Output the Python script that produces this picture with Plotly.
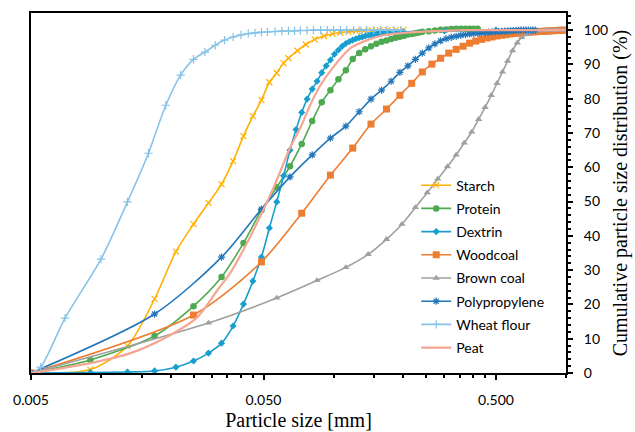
import plotly.graph_objects as go
import math

# ---------------- data ----------------
starch_x = [0.005, 0.009, 0.013, 0.017, 0.021, 0.025, 0.029, 0.033, 0.037, 0.041, 0.045, 0.049, 0.053,
            0.057, 0.061, 0.064, 0.070, 0.076, 0.083, 0.091, 0.099, 0.107, 0.116, 0.125, 0.135, 0.146,
            0.158, 0.171, 0.185, 0.200]
starch_y = [0, 1.0, 7.9, 21.6, 35.4, 43.4, 49.6, 55.1, 61.8, 69.1, 74.9, 79.6, 84.8,
            87.5, 90.4, 91.8, 94.0, 95.8, 97.3, 98.3, 98.9, 99.3, 99.5, 99.7, 99.8, 99.9,
            100, 100, 100, 100]

protein_x = [0.005, 0.009, 0.017, 0.025, 0.033, 0.041, 0.049, 0.057, 0.065, 0.073, 0.081, 0.089,
             0.097, 0.105, 0.113, 0.121, 0.129, 0.137, 0.145, 0.153, 0.161, 0.169, 0.177, 0.185,
             0.193, 0.201, 0.209, 0.217, 0.225, 0.233, 0.241, 0.257, 0.273, 0.289, 0.305, 0.321,
             0.337, 0.353, 0.369, 0.385, 0.401, 0.417]
protein_y = [0, 3.8, 10.8, 19.5, 28.0, 37.9, 47.5, 54.2, 60.3, 66.8, 73.5, 79.0,
             82.5, 85.7, 88.3, 91.6, 93.3, 94.4, 95.3, 96.0, 96.6, 97.0, 97.4, 97.8,
             98.1, 98.4, 98.7, 98.9, 99.1, 99.3, 99.5, 99.7, 99.9, 100.1, 100.2, 100.3,
             100.4, 100.4, 100.4, 100.4, 100.4, 100.4]

dextrin_x = [0.005, 0.009, 0.013, 0.017, 0.021, 0.025, 0.029, 0.033, 0.037, 0.041, 0.045, 0.049,
             0.053, 0.057, 0.061, 0.065, 0.069, 0.073, 0.077, 0.081, 0.085, 0.089, 0.093, 0.097,
             0.101, 0.105, 0.109, 0.113, 0.117, 0.121, 0.125, 0.129, 0.133, 0.137, 0.141, 0.145,
             0.149, 0.153, 0.157, 0.161, 0.165, 0.173, 0.185, 0.200, 0.300, 0.500, 1.000]
dextrin_y = [0, 0.1, 0.3, 0.6, 1.7, 3.5, 5.8, 8.7, 13.7, 20.1, 26.8, 33.8,
             42.3, 49.9, 57.5, 65.0, 71.0, 76.0, 79.9, 82.8, 85.1, 87.6, 89.6, 91.3,
             93.0, 94.2, 95.3, 96.1, 96.7, 97.1, 97.5, 97.8, 98.0, 98.3, 98.5, 98.6,
             98.8, 98.9, 99.0, 99.1, 99.2, 99.3, 99.4, 99.5, 99.8, 100, 100]

woodcoal_x = [0.005, 0.025, 0.049, 0.073, 0.097, 0.121, 0.145, 0.169, 0.193, 0.217, 0.241, 0.265,
              0.289, 0.313, 0.337, 0.361, 0.385, 0.409, 0.433, 0.457, 0.481, 0.505, 0.529, 0.553,
              0.577, 0.601, 0.625, 0.649, 0.673, 0.697, 0.721, 0.745, 0.769, 0.793, 0.817, 0.841,
              0.865, 0.889, 0.913, 0.937, 0.961, 0.985]
woodcoal_y = [0, 16.9, 32.4, 46.6, 57.7, 65.6, 72.6, 77.0, 81.0, 84.5, 87.8, 90.1,
              91.8, 93.3, 94.4, 95.3, 96.2, 96.8, 97.3, 97.7, 98.0, 98.3, 98.5, 98.7,
              98.9, 99.0, 99.1, 99.2, 99.3, 99.4, 99.5, 99.55, 99.6, 99.65, 99.7, 99.75,
              99.8, 99.85, 99.9, 99.95, 100, 100]

browncoal_x = [0.005, 0.029, 0.057, 0.085, 0.113, 0.141, 0.169, 0.197, 0.225, 0.253, 0.281, 0.309,
               0.337, 0.365, 0.393, 0.421, 0.449, 0.477, 0.505, 0.533, 0.561, 0.589, 0.617, 0.645,
               0.673, 0.701, 0.729, 0.757, 0.785, 0.813, 0.841, 0.869, 0.897, 0.925, 0.953, 0.981]
browncoal_y = [0, 14.6, 21.9, 27.0, 30.8, 34.6, 39.0, 43.4, 48.3, 52.6, 56.6, 60.2,
               63.6, 67.1, 70.3, 74.0, 77.5, 81.0, 84.5, 87.8, 91.0, 94.0, 96.3, 97.9,
               98.8, 99.3, 99.6, 99.8, 99.9, 100, 100, 100, 100, 100, 100, 100]

polyprop_x = [0.005, 0.017, 0.033, 0.049, 0.065, 0.081, 0.097, 0.113, 0.129, 0.145, 0.161, 0.177,
              0.193, 0.209, 0.225, 0.241, 0.257, 0.273, 0.289, 0.305, 0.321, 0.337, 0.353, 0.369,
              0.385, 0.401, 0.417, 0.433, 0.449, 0.465, 0.481, 0.497, 0.513, 0.529, 0.545, 0.561,
              0.577, 0.593, 0.609, 0.625, 0.641, 0.657, 0.673, 0.689, 0.705, 0.721, 0.737]
polyprop_y = [0, 17.2, 33.8, 47.8, 57.2, 63.6, 68.5, 72.0, 76.2, 79.9, 82.5, 85.1,
              87.7, 89.6, 91.5, 93.3, 94.8, 96.0, 96.9, 97.5, 97.9, 98.2, 98.5, 98.7,
              98.9, 99.0, 99.1, 99.2, 99.3, 99.4, 99.5, 99.55, 99.6, 99.65, 99.7, 99.75,
              99.8, 99.85, 99.9, 99.95, 100, 100, 100, 100, 100, 100, 100]

wheat_x = [0.005, 0.0055, 0.007, 0.010, 0.013, 0.016, 0.019, 0.022, 0.025, 0.028, 0.031, 0.034,
           0.037, 0.040, 0.043, 0.046, 0.049, 0.052, 0.056, 0.060, 0.064, 0.068, 0.072, 0.077,
           0.082, 0.088, 0.094, 0.100, 0.107, 0.114, 0.122, 0.130, 0.139, 0.149, 0.159, 0.170,
           0.182, 0.195]
wheat_y = [0, 1.7, 16.0, 33.2, 49.9, 64.1, 78.1, 86.9, 91.5, 93.6, 95.6, 97.1,
           98.0, 98.6, 99.0, 99.2, 99.4, 99.5, 99.6, 99.7, 99.8, 99.8, 99.9, 99.9,
           100, 100, 100, 100, 100, 100, 100, 100, 100, 100, 100, 100,
           100, 100]

peat_x = [0.005, 0.009, 0.0134, 0.0199, 0.026, 0.0317, 0.036, 0.0431, 0.0547, 0.0653, 0.0721,
          0.0797, 0.088, 0.100, 0.1186, 0.140, 0.164, 0.195, 0.270, 0.378, 0.600, 1.000]
peat_y = [0, 2.9, 5.8, 11.1, 16.3, 24.2, 29.2, 38.8, 53.4, 65.9, 71.6,
          78.4, 84.0, 89.3, 94.8, 97.1, 98.5, 99.1, 99.7, 100, 100, 100]

x_tickvals = [0.005, 0.05, 0.5]
x_ticktext = ["0.005", "0.050", "0.500"]
x_minor = [0.01, 0.015, 0.02, 0.025, 0.03, 0.035, 0.04, 0.045,
           0.1, 0.15, 0.2, 0.25, 0.3, 0.35, 0.4, 0.45, 1.0]

series = [
    ("Starch", starch_x, starch_y, "#FFB000", dict(symbol="x-thin-open", size=6, line=dict(width=1.2, color="#FFB000"))),
    ("Protein", protein_x, protein_y, "#4EA94F", dict(symbol="circle", size=6.5)),
    ("Dextrin", dextrin_x, dextrin_y, "#189ECE", dict(symbol="diamond", size=5.5)),
    ("Woodcoal", woodcoal_x, woodcoal_y, "#ED7D31", dict(symbol="square", size=7)),
    ("Brown coal", browncoal_x, browncoal_y, "#A0A0A0", dict(symbol="triangle-up", size=6.5)),
    ("Polypropylene", polyprop_x, polyprop_y, "#2276BA", dict(symbol="asterisk-open", size=6, line=dict(width=1.2, color="#5AA0D8"))),
    ("Wheat flour", wheat_x, wheat_y, "#87C3E8", dict(symbol="cross-thin-open", size=6, line=dict(width=1.2, color="#87C3E8"))),
    ("Peat", peat_x, peat_y, "#F5A592", None),
]

fig = go.Figure()
for i, (name, xs, ys, col, mk) in enumerate(series):
    kw = dict(x=xs, y=ys, name=name, legendgroup=f"g{i}",
              line=dict(color=col, width=1.6, shape="spline", smoothing=0.8))
    if mk is None:
        kw["mode"] = "lines"
        kw["line"]["width"] = 2.2
    else:
        m = dict(color=col)
        m.update(mk)
        kw["mode"] = "lines+markers"
        kw["marker"] = m
    fig.add_trace(go.Scatter(**kw))

tick_font = dict(family="Lato", size=14, color="black")
title_font = dict(family="Liberation Serif", size=20, color="black")

fig.update_layout(
    width=635, height=432, autosize=False,
    margin=dict(l=31, r=69, t=13, b=59),
    paper_bgcolor="white", plot_bgcolor="white",
    showlegend=True,
    legend=dict(x=0.72, y=0.565, xanchor="left", yanchor="top",
                bgcolor="rgba(0,0,0,0)", font=dict(family="Lato", size=14, color="black"),
                tracegroupgap=2, itemwidth=30),
    xaxis=dict(type="log", range=[math.log10(0.005), math.log10(1.0)], automargin=False,
               tickvals=x_tickvals, ticktext=x_ticktext, tickfont=tick_font,
               ticks="outside", ticklen=5, tickwidth=2, tickcolor="black",
               ticklabelstandoff=8,
               minor=dict(tickvals=x_minor, ticks="outside", ticklen=3, tickwidth=2, tickcolor="black"),
               showline=True, linecolor="black", linewidth=2, mirror=True,
               showgrid=False, zeroline=False,
               title=dict(text="Particle size [mm]", font=title_font, standoff=6)),
    yaxis=dict(side="right", range=[0, 105], tick0=0, dtick=10, tickfont=tick_font, automargin=False,
               ticks="outside", ticklen=5, tickwidth=2, tickcolor="black",
               ticklabelstandoff=8,
               minor=dict(dtick=2, ticks="outside", ticklen=3, tickwidth=1.5, tickcolor="black"),
               showline=True, linecolor="black", linewidth=2, mirror=True,
               showgrid=False, zeroline=False,
               title=dict(text="Cumulative particle size distribution (%)", font=title_font, standoff=6)),
)

fig.write_html("out.html", config={"displayModeBar": False},
               post_script="document.body.style.margin='0';document.body.style.overflow='hidden';")
